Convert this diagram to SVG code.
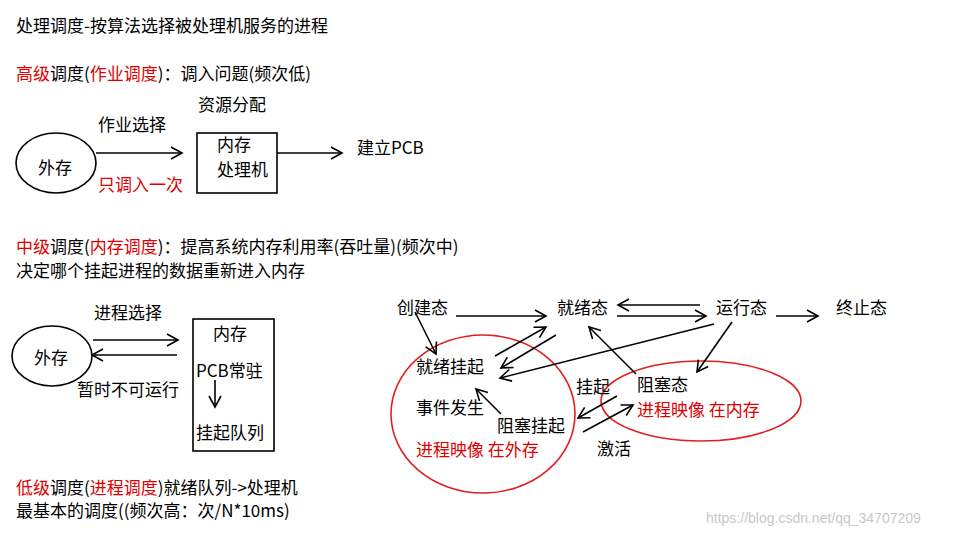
<svg xmlns="http://www.w3.org/2000/svg" width="958" height="536" viewBox="0 0 958 536">
<style>
text{font-family:"Noto Sans CJK SC","Liberation Sans",sans-serif;font-size:17px;fill:#000}
.r{fill:#e00000}
.l{stroke:#000;stroke-width:1.6;fill:none;marker-end:url(#a)}
.s{stroke:#000;stroke-width:1.6;fill:#fff}
.re{stroke:#e02020;stroke-width:1.6;fill:none}
</style>
<defs><marker id="a" markerWidth="14" markerHeight="14" refX="12" refY="7" orient="auto" markerUnits="userSpaceOnUse"><path d="M1,1 L12,7 L1,13" fill="none" stroke="#000" stroke-width="1.6"/></marker></defs>
<rect width="958" height="536" fill="#fff"/>
<text x="16" y="32">处理调度-按算法选择被处理机服务的进程</text>
<text x="16" y="80"><tspan class="r">高级</tspan>调度(<tspan class="r">作业调度</tspan>)：调入问题(频次低)</text>
<text x="16" y="253"><tspan class="r">中级</tspan>调度(<tspan class="r">内存调度</tspan>)：提高系统内存利用率(吞吐量)(频次中)</text>
<text x="16" y="277">决定哪个挂起进程的数据重新进入内存</text>
<text x="16" y="494"><tspan class="r">低级</tspan>调度(<tspan class="r">进程调度</tspan>)就绪队列-&gt;处理机</text>
<text x="16" y="517">最基本的调度((频次高：次/N*10ms)</text>
<g id="n1"><ellipse class="s" cx="56" cy="163" rx="40" ry="30"/><text x="38" y="174">外存</text></g>
<g id="n2"><rect class="s" x="197" y="133" width="80" height="60"/><text x="217" y="151">内存</text><text x="217" y="176">处理机</text></g>
<text x="98" y="131">作业选择</text><text x="98" y="191" class="r">只调入一次</text>
<text x="198" y="111">资源分配</text><text x="357" y="154">建立PCB</text>
<g id="n3"><ellipse class="s" cx="52" cy="356" rx="40" ry="30"/><text x="34" y="364">外存</text></g>
<g id="n4"><rect class="s" x="193" y="319" width="81" height="132"/><text x="213" y="340">内存</text><text x="196" y="377">PCB常驻</text><text x="196" y="439">挂起队列</text></g>
<text x="94" y="319">进程选择</text><text x="77" y="396">暂时不可运行</text>
<g id="e1"><ellipse class="re" cx="483" cy="414" rx="92" ry="79"/></g>
<g id="e2"><ellipse class="re" cx="701" cy="401" rx="100" ry="40"/></g>
<g id="s1"><text x="397" y="314">创建态</text></g>
<g id="s2"><text x="557" y="314">就绪态</text></g>
<g id="s3"><text x="716" y="314">运行态</text></g>
<g id="s4"><text x="836" y="314">终止态</text></g>
<g id="s5"><text x="416" y="373">就绪挂起</text></g>
<g id="s6"><text x="497" y="432">阻塞挂起</text></g>
<g id="s7"><text x="637" y="391">阻塞态</text><text x="637" y="416" class="r">进程映像 在内存</text></g>
<text x="416" y="414">事件发生</text><text x="416" y="456" class="r">进程映像 在外存</text>
<text x="576" y="393">挂起</text><text x="597" y="455">激活</text>
<g id="connectors">
<line class="l" x1="96" y1="153" x2="182" y2="153"/>
<line class="l" x1="277" y1="153" x2="342" y2="153"/>
<line class="l" x1="93" y1="340" x2="178" y2="340"/>
<line class="l" x1="177" y1="355" x2="92" y2="355"/>
<line class="l" x1="215" y1="380" x2="215" y2="407"/>
<line class="l" x1="456" y1="316" x2="546" y2="316"/>
<line class="l" x1="700" y1="305" x2="618" y2="305"/>
<line class="l" x1="617" y1="316" x2="706" y2="316"/>
<line class="l" x1="776" y1="316" x2="818" y2="316"/>
<line class="l" x1="415" y1="312" x2="436" y2="354"/>
<line class="l" x1="495" y1="356" x2="546" y2="327"/>
<line class="l" x1="556" y1="335" x2="501" y2="368"/>
<line class="l" x1="714" y1="324" x2="500" y2="378"/>
<line class="l" x1="732" y1="322" x2="697" y2="372"/>
<line class="l" x1="636" y1="374" x2="589" y2="327"/>
<line class="l" x1="501" y1="414" x2="476" y2="389"/>
<line class="l" x1="617" y1="396" x2="578" y2="418"/>
<line class="l" x1="583" y1="432" x2="633" y2="405"/>
</g>
<text x="706" y="523" style="font-family:'Liberation Sans',sans-serif;font-size:14px;fill:#c8c8c8">https://blog.csdn.net/qq_34707209</text>
</svg>
